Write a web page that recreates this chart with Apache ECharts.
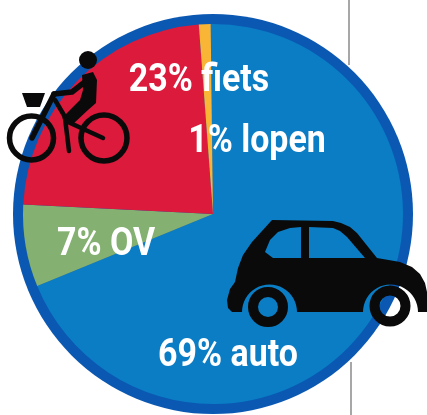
<!DOCTYPE html>
<html>
<head>
<meta charset="utf-8">
<title>vervoer</title>
<script src="https://cdn.jsdelivr.net/npm/echarts@6/dist/echarts.min.js"></script>
<style>
html,body{margin:0;padding:0;background:#fff}
#main{width:427px;height:415px}
</style>
</head>
<body>
<div id="main"></div>
<script>
// aandeel per vervoerswijze, met de klok mee vanaf boven
var categories = ['auto', 'OV', 'fiets', 'lopen'];
var shares = [69, 7, 23, 1];
var colors = ['#0a7dc5', '#84b071', '#dc1a3c', '#f8b536'];
var labelSpots = [[228, 356], [106, 245], [199, 81], [257, 142]];

var ink = '#0a0a0a';

function line(points, width) {
  return {type: 'polyline', z: 10, silent: true, shape: {points: points},
    style: {stroke: ink, lineWidth: width, fill: null, lineCap: 'round', lineJoin: 'round'}};
}
function fillShape(points, color) {
  return {type: 'polygon', z: 10, silent: true, shape: {points: points}, style: {fill: color || ink}};
}
function ring(cx, cy, r, width) {
  return {type: 'circle', z: 11, silent: true, shape: {cx: cx, cy: cy, r: r},
    style: {stroke: ink, lineWidth: width, fill: null}};
}
function rule(x, y1, y2) {
  return {type: 'line', z: 0, silent: true, shape: {x1: x, y1: y1, x2: x, y2: y2},
    style: {stroke: '#8a8a8a', lineWidth: 1.5}};
}
// smal gezette labels: ECharts-labels kennen geen font-stretch, dus tekst met scaleX
function sliceLabel(name, i) {
  return {
    type: 'text', z: 12, silent: true,
    x: labelSpots[i][0], y: labelSpots[i][1], scaleX: 0.87,
    style: {
      text: shares[i] + '% ' + name,
      fill: '#fff',
      font: 'bold 39px Roboto, sans-serif',
      textAlign: 'center',
      textVerticalAlign: 'middle'
    }
  };
}
// wielkast: boog over de bovenkant van het wiel, van rechts naar links
function arch(cx, y, r) {
  var pts = [];
  for (var i = 0; i <= 24; i++) {
    var a = Math.PI * i / 24;
    pts.push([cx + r * Math.cos(a), y - r * Math.sin(a)]);
  }
  return pts;
}

var carBody = [
  [272, 220], [333, 221], [341, 223], [350, 227], [357, 233], [377, 258], [400, 262], [412, 267], [420, 274], [425, 283], [427, 292], [427, 312], [418, 312]
].concat(arch(390.5, 312, 27.5), arch(269.5, 312, 27.5), [
  [232, 312], [228, 308], [227, 300], [230, 289], [235, 282], [238, 268], [243, 255], [252, 242], [262, 231]
]);
var carWindowLeft = [[301, 227], [290, 228], [278, 232], [270, 240], [265, 252], [273, 258], [301, 258]];
var carWindowRight = [[309, 227], [309, 258], [365, 258], [347, 237], [340, 231], [333, 228]];

var myChart = echarts.init(document.getElementById('main'));
var option = {
  backgroundColor: '#fff',
  animation: false,
  graphic: [
    rule(349, 0, 65),
    rule(351, 362, 415),
    // fiets
    ring(31.5, 138, 22, 5.5),
    ring(104, 138, 23, 5.5),
    {type: 'circle', z: 10, silent: true, shape: {cx: 88, cy: 60, r: 9}, style: {fill: ink}},
    fillShape([[22, 93], [45, 93], [40, 107], [27, 107]]),
    fillShape([[82, 75], [93, 72], [97, 80], [96, 103], [88, 110], [73, 124], [62, 118], [80, 100], [83, 90]]),
    line([[86, 81], [72, 92], [54, 94]], 5.5),
    line([[54, 94], [32, 138]], 5.5),
    line([[55, 100], [68, 122], [103, 138]], 4.5),
    line([[65, 118], [69, 151]], 4.5),
    // auto
    fillShape(carBody),
    fillShape(carWindowLeft, colors[0]),
    fillShape(carWindowRight, colors[0]),
    ring(268, 307, 15, 10),
    ring(390, 306, 15.5, 10)
  ].concat(categories.map(sliceLabel)),
  series: [
    {
      // donkerblauwe rand om de taart
      type: 'pie',
      silent: true,
      center: [213, 214],
      radius: [0, 200],
      startAngle: 90,
      label: {show: false},
      labelLine: {show: false},
      data: [{value: 1, itemStyle: {color: '#0b58b2'}}]
    },
    {
      type: 'pie',
      silent: true,
      center: [213, 214],
      radius: [0, 190],
      startAngle: 90.7,
      clockwise: true,
      sort: null,
      z: 3,
      color: colors,
      label: {show: false},
      labelLine: {show: false},
      data: categories.map(function (name, i) {
        return {name: name, value: shares[i]};
      })
    }
  ]
};
myChart.setOption(option);
</script>
</body>
</html>
